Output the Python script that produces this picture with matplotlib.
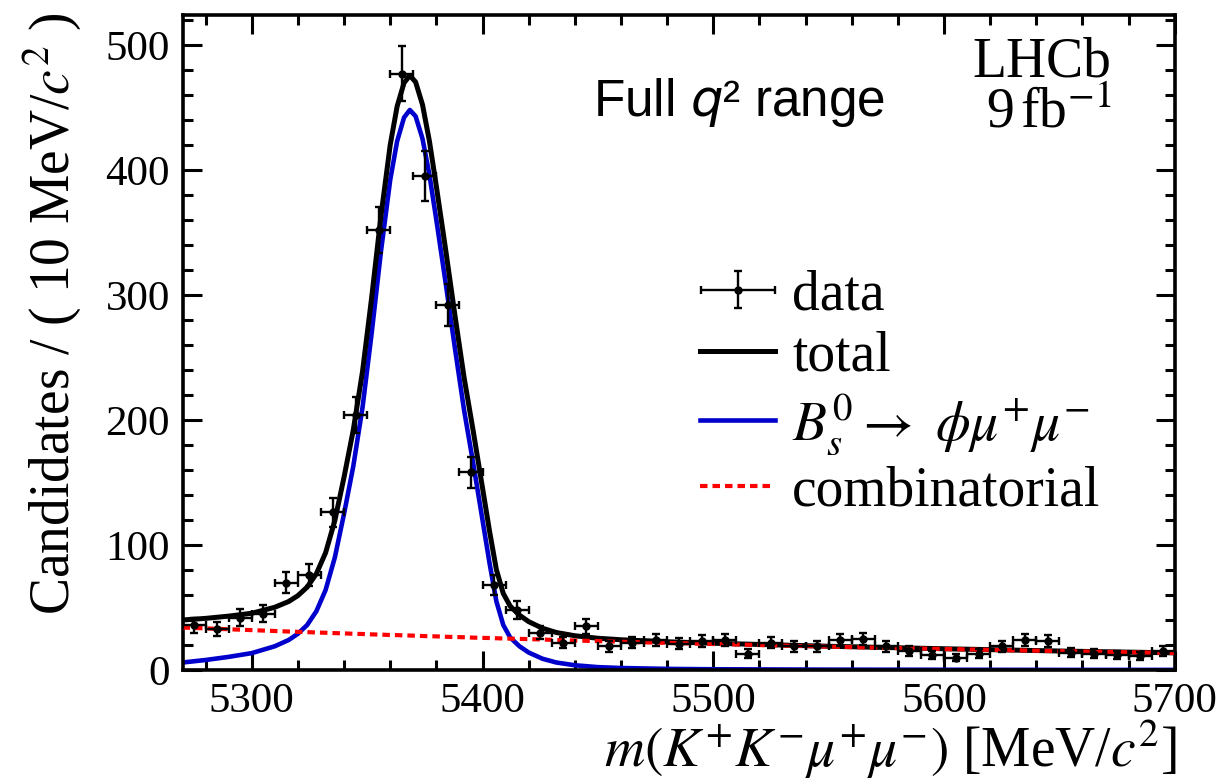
import numpy as np
import matplotlib
matplotlib.use("Agg")
from matplotlib import pyplot as plt
from matplotlib.container import ErrorbarContainer
from matplotlib.legend_handler import HandlerErrorbar

plt.rcParams['font.family'] = ['Liberation Serif', 'DejaVu Serif']
plt.rcParams['mathtext.fontset'] = 'stix'

# datos: centros de bin (10 MeV) y candidatos
bin_centers = np.arange(5275, 5700, 10)
counts = [36, 33, 42, 45, 70, 76, 126, 204, 352, 477,
          395, 292, 158, 68, 48, 30, 22, 35, 19, 22,
          24, 21, 23, 24, 13, 22, 19, 19, 24, 25,
          19, 15, 12, 10, 13, 19, 24, 23, 14, 13,
          12, 11, 15]

# curvas del ajuste
mass_grid = [5270, 5280, 5290, 5300, 5310, 5316, 5320, 5324, 5328, 5332,
             5336, 5340, 5344, 5348, 5352, 5356, 5360, 5363, 5366, 5368.5,
             5371, 5374, 5377, 5380, 5384, 5388, 5392, 5396, 5400, 5403,
             5406, 5409, 5412, 5416, 5420, 5426, 5432, 5440, 5450, 5460,
             5480, 5500, 5550, 5600, 5650, 5700]
signal = [6.0, 8.0, 10.5, 13.5, 19, 24, 29, 36, 47, 64,
          90, 125, 163, 210, 270, 335, 392, 423, 442, 448,
          443, 425, 396, 360, 310, 258, 208, 165, 120, 86,
          55, 36, 26, 19, 14, 9, 6, 3.8, 2.3, 1.6,
          0.9, 0.6, 0.3, 0.2, 0.1, 0.1]
combinatorial = [34.0, 33.3, 32.6, 31.9, 31.2, 30.8, 30.5, 30.3, 30.0, 29.8,
                 29.5, 29.3, 29.0, 28.8, 28.5, 28.3, 28.0, 27.9, 27.7, 27.6,
                 27.4, 27.2, 27.0, 26.9, 26.6, 26.4, 26.2, 25.9, 25.7, 25.6,
                 25.4, 25.2, 25.1, 24.9, 24.7, 24.4, 24.0, 23.6, 23.1, 22.6,
                 21.7, 20.8, 18.7, 16.8, 15.1, 13.6]
total = np.add(signal, combinatorial)

fig = plt.figure(figsize=(12.25, 7.84), dpi=100)
ax = fig.add_axes([0.149, 0.1454, 0.810, 0.8355])

ax.plot(mass_grid, signal, color='#0000cc', lw=3.3, zorder=2,
        label=r'$B_s^0 \rightarrow\ \phi\mu^{+}\mu^{-}$')
ax.plot(mass_grid, total, color='black', lw=3.6, zorder=3, label='total')
ax.plot(mass_grid, combinatorial, color='#ff0000', lw=3.0, zorder=4,
        linestyle=(0, (1.8, 1.2)), label='combinatorial')
eb = ax.errorbar(bin_centers, counts, yerr=np.sqrt(counts), xerr=5,
                 fmt='o', color='black', ms=5, elinewidth=1.7,
                 capsize=3, capthick=1.7, zorder=5, label='data')

ax.set_xlim(5270, 5700)
ax.set_ylim(0, 524)
ax.set_xticks([5300, 5400, 5500, 5600, 5700])
ax.set_yticks([0, 100, 200, 300, 400, 500])
ax.xaxis.set_minor_locator(matplotlib.ticker.MultipleLocator(20))
ax.yaxis.set_minor_locator(matplotlib.ticker.MultipleLocator(20))
ax.tick_params(which='both', direction='in', top=True, right=True,
               labelsize=31, width=2.2, pad=9)
ax.tick_params(which='major', length=14)
ax.tick_params(which='minor', length=7)
for s in ax.spines.values():
    s.set_linewidth(2.6)

fig.text(0.042, 0.985, r'Candidates / ( 10 MeV/$c^{2}$ )', rotation=90,
         ha='center', va='top', fontsize=40)
fig.text(0.961, 0.004, r'$m(K^{+}K^{-}\mu^{+}\mu^{-})$ [MeV/$c^{2}$]',
         ha='right', va='bottom', fontsize=40)

ax.text(0.936, 0.928, 'LHCb', transform=ax.transAxes, ha='right',
        va='center', fontsize=40)
ax.text(0.936, 0.850, r'9$\,$fb$^{-1}$', transform=ax.transAxes, ha='right',
        va='center', fontsize=40)
ax.text(0.561, 0.866, 'Full $\\mathit{q}$\u00b2 range', transform=ax.transAxes,
        ha='center', va='center', fontsize=37, family='Liberation Sans',
        math_fontfamily='dejavusans')

handles, labels = ax.get_legend_handles_labels()
order = [labels.index(l) for l in ['data', 'total',
                                  r'$B_s^0 \rightarrow\ \phi\mu^{+}\mu^{-}$',
                                  'combinatorial']]
leg = ax.legend([handles[i] for i in order], [labels[i] for i in order],
                loc='upper left', bbox_to_anchor=(0.522, 0.612),
                frameon=False, fontsize=40, handlelength=1.35,
                handletextpad=0.3, labelspacing=0.16, borderaxespad=0,
                borderpad=0,
                handler_map={ErrorbarContainer: HandlerErrorbar(xerr_size=0.67, yerr_size=0.33)})

fig.savefig('out.png', dpi=100)
